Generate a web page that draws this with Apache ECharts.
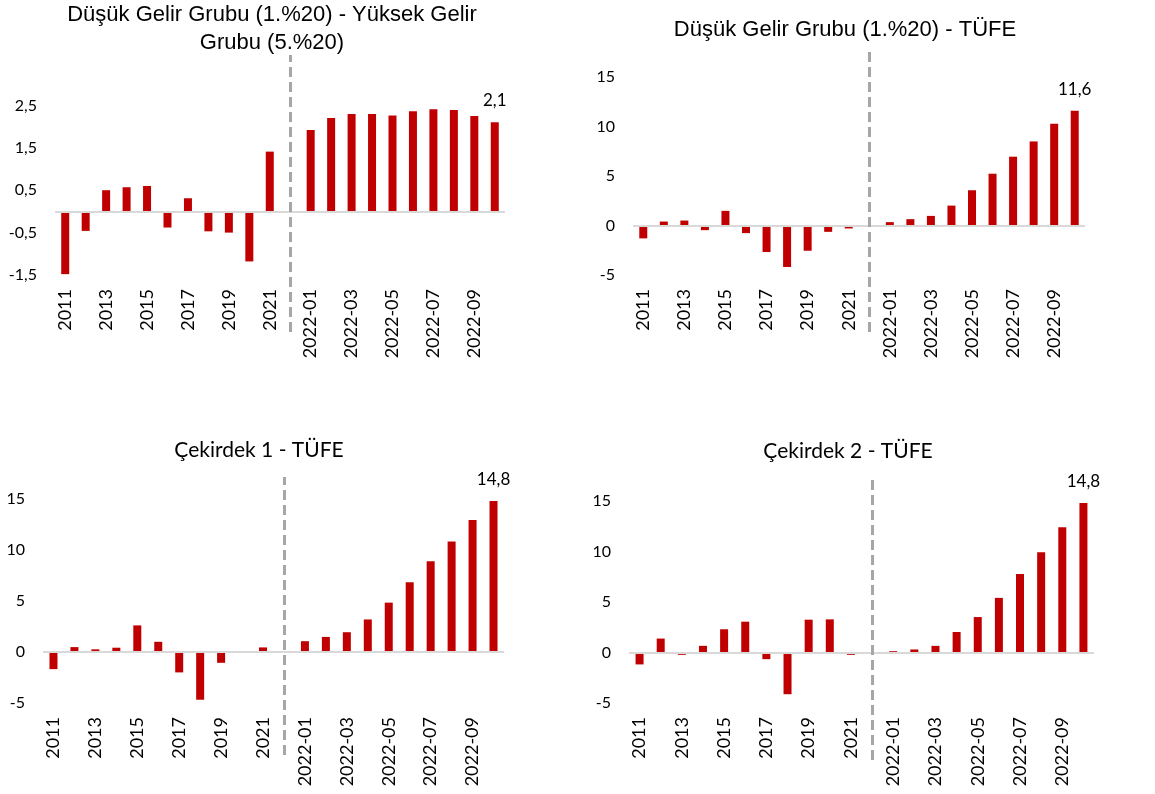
<!DOCTYPE html>
<html>
<head>
<meta charset="utf-8">
<script src="https://cdn.jsdelivr.net/npm/echarts@6/dist/echarts.min.js"></script>
<style>
    html, body { margin: 0; padding: 0; background: #fff; }
    #chart { width: 1155px; height: 794px; }
</style>
</head>
<body>
<div id="chart"></div>
<script>
// categories: yearly 2011-2021, an empty slot for the divider, then monthly 2022
var categories = [
    '2011', '2012', '2013', '2014', '2015', '2016', '2017', '2018', '2019', '2020', '2021',
    '',
    '2022-01', '2022-02', '2022-03', '2022-04', '2022-05', '2022-06', '2022-07', '2022-08', '2022-09', '2022-10'
];

// Düşük Gelir Grubu (1.%20) - Yüksek Gelir Grubu (5.%20)
var dusukYuksek = [-1.48, -0.46, 0.50, 0.57, 0.60, -0.38, 0.31, -0.47, -0.50, -1.18, 1.41,
    null,
    1.92, 2.20, 2.30, 2.30, 2.26, 2.36, 2.41, 2.39, 2.25, 2.1];
// Düşük Gelir Grubu (1.%20) - TÜFE
var dusukTufe = [-1.3, 0.4, 0.5, -0.47, 1.48, -0.77, -2.68, -4.19, -2.55, -0.64, -0.3,
    null,
    0.34, 0.64, 0.97, 2.01, 3.56, 5.23, 6.95, 8.49, 10.27, 11.6];
// Çekirdek 1 - TÜFE
var cekirdek1Tufe = [-1.68, 0.48, 0.26, 0.42, 2.61, 1.0, -2.0, -4.68, -1.06, 0.1, 0.45,
    null,
    1.06, 1.48, 1.94, 3.19, 4.84, 6.84, 8.9, 10.84, 12.94, 14.8];
// Çekirdek 2 - TÜFE
var cekirdek2Tufe = [-1.18, 1.38, -0.23, 0.66, 2.3, 3.05, -0.66, -4.13, 3.25, 3.28, -0.23,
    null,
    0.13, 0.3, 0.66, 2.03, 3.51, 5.41, 7.77, 9.93, 12.39, 14.8];

// y tick labels
var ticksP1 = [-1.5, -0.5, 0.5, 1.5, 2.5];
var ticksTufe = [-5, 0, 5, 10, 15];

var titleTexts = [
    'Düşük Gelir Grubu (1.%20) - Yüksek Gelir\nGrubu (5.%20)',
    'Düşük Gelir Grubu (1.%20) - TÜFE',
    'Çekirdek 1 - TÜFE',
    'Çekirdek 2 - TÜFE'
];

var RED = '#c00000';
var NUM_FONT = 'Lato, "Noto Sans", sans-serif';
var ARIAL = '"Liberation Sans", Arial, sans-serif';
var DIVIDER_INDEX = 11;

var panels = [
    { data: dusukYuksek, ticks: ticksP1, min: -1.5, max: 3.5, title: titleTexts[0],
      grid: { left: 55, top: 63, width: 450, height: 212 }, divider: { top: 55, height: 277 },
      titleX: 272, titleY: 1, titleFont: ARIAL, titleSize: 22 },
    { data: dusukTufe, ticks: ticksTufe, min: -5, max: 15, title: titleTexts[1],
      grid: { left: 633, top: 77, width: 452, height: 198 }, divider: { top: 52, height: 280 },
      titleX: 845, titleY: 16, titleFont: ARIAL, titleSize: 22 },
    { data: cekirdek1Tufe, ticks: ticksTufe, min: -5, max: 15, title: titleTexts[2],
      grid: { left: 43, top: 499, width: 461, height: 204 }, divider: { top: 477, height: 278 },
      titleX: 259, titleY: 436, titleFont: NUM_FONT, titleSize: 21 },
    { data: cekirdek2Tufe, ticks: ticksTufe, min: -5, max: 15, title: titleTexts[3],
      grid: { left: 629, top: 501, width: 465, height: 202 }, divider: { top: 480, height: 280 },
      titleX: 848, titleY: 437, titleFont: NUM_FONT, titleSize: 21 }
];

function comma(v) {
    return String(v).replace('.', ',');
}

var option = {
    animation: false,
    backgroundColor: '#fff',
    title: [],
    grid: [],
    xAxis: [],
    yAxis: [],
    series: []
};

panels.forEach(function (p, i) {
    var n = p.data.length;

    option.title.push({
        text: p.title,
        left: p.titleX,
        top: p.titleY,
        padding: 0,
        textAlign: 'center',
        textStyle: {
            fontFamily: p.titleFont,
            fontSize: p.titleSize,
            fontWeight: 'normal',
            color: '#000',
            lineHeight: 28
        }
    });

    // main grid + overlay grid for the dashed divider
    option.grid.push(p.grid);
    option.grid.push({
        left: p.grid.left, width: p.grid.width,
        top: p.divider.top, height: p.divider.height
    });

    var gMain = i * 2, gOver = i * 2 + 1;

    option.xAxis.push({
        type: 'category',
        gridIndex: gMain,
        data: categories,
        axisLine: { show: false },
        axisTick: { show: false },
        splitLine: { show: false },
        axisLabel: {
            rotate: 90,
            margin: 14,
            interval: 1,
            fontFamily: NUM_FONT,
            fontSize: 18,
            color: '#000'
        }
    });
    option.xAxis.push({
        type: 'value', gridIndex: gOver, min: -0.5, max: n - 0.5, show: false
    });

    option.yAxis.push({
        type: 'value',
        gridIndex: gMain,
        min: p.min,
        max: p.max,
        axisLine: { show: false },
        axisTick: { show: false },
        splitLine: { show: false },
        axisLabel: {
            customValues: p.ticks,
            margin: 18,
            fontFamily: NUM_FONT,
            fontSize: 16,
            color: '#000',
            formatter: comma
        }
    });
    option.yAxis.push({
        type: 'value', gridIndex: gOver, min: 0, max: 1, show: false
    });

    option.series.push({
        type: 'bar',
        xAxisIndex: gMain,
        yAxisIndex: gMain,
        barWidth: 8,
        itemStyle: { color: RED },
        data: p.data.map(function (v, k) {
            if (k === n - 1) {
                return {
                    value: v,
                    label: {
                        show: true,
                        position: 'top',
                        distance: 13,
                        fontFamily: NUM_FONT,
                        fontSize: 17,
                        color: '#000',
                        formatter: function (d) { return comma(d.value); }
                    }
                };
            }
            return v;
        }),
        markLine: {
            silent: true,
            symbol: 'none',
            label: { show: false },
            lineStyle: { color: '#d9d9d9', width: 2, type: 'solid' },
            data: [{ yAxis: 0 }]
        }
    });

    // dashed divider between yearly and monthly data
    option.series.push({
        type: 'line',
        xAxisIndex: gOver,
        yAxisIndex: gOver,
        data: [],
        markLine: {
            silent: true,
            symbol: 'none',
            label: { show: false },
            lineStyle: { color: '#a6a6a6', width: 3, type: [10, 5] },
            data: [{ xAxis: DIVIDER_INDEX }]
        }
    });
});

var myChart = echarts.init(document.getElementById('chart'));
myChart.setOption(option);
</script>
</body>
</html>
